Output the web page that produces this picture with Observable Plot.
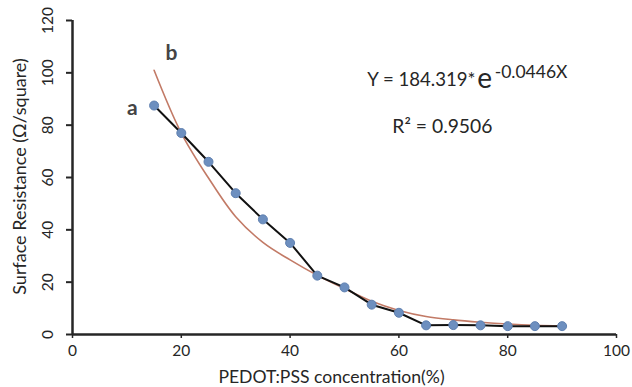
<!DOCTYPE html>
<html>
<head>
<meta charset="utf-8">
<script src="https://cdn.jsdelivr.net/npm/d3@7"></script>
<script src="https://cdn.jsdelivr.net/npm/@observablehq/plot@0.6"></script>
<style>
  html, body { margin: 0; padding: 0; background: #fff; }
</style>
</head>
<body>
<div id="chart"></div>
<script>
// Measured data (series a)
const concentration = [15, 20, 25, 30, 35, 40, 45, 50, 55, 60, 65, 70, 75, 80, 85, 90];
const resistance = [87.5, 77, 66, 54, 44, 35, 22.5, 18, 11.4, 8.3, 3.5, 3.6, 3.5, 3.2, 3.2, 3.2];
// Fitted curve as drawn (series b)
const fitConcentration = [15, 20, 25, 30, 35, 40, 45, 50, 55, 60, 65, 70, 75, 80, 85, 90];
const fitResistance = [101, 77, 59.8, 45, 35.2, 28.5, 22.6, 17.5, 12.7, 9.2, 6.9, 5.6, 4.7, 4, 3.5, 3.2];
// Axis ticks
const xTicks = [0, 20, 40, 60, 80, 100];
const yTicks = [0, 20, 40, 60, 80, 100, 120];

const measured = concentration.map((c, i) => ({c, r: resistance[i]}));
const fitted = fitConcentration.map((c, i) => ({c, r: fitResistance[i]}));

const font = "Lato, 'Open Sans', sans-serif";
const ink = "#262626";

const chart = Plot.plot({
  width: 632,
  height: 387,
  marginLeft: 72,
  marginRight: 16,
  marginTop: 20,
  marginBottom: 53,
  style: {fontFamily: font, background: "#fff", color: ink},
  x: {domain: [0, 100]},
  y: {domain: [0, 120]},
  marks: [
    Plot.axisX({ticks: xTicks, tickSize: 4, tickFormat: () => "", stroke: ink, strokeWidth: 1.5, label: null}),
    Plot.axisY({ticks: yTicks, tickSize: 6, tickFormat: () => "", stroke: ink, strokeWidth: 2, label: null}),
    Plot.text(xTicks, {x: d => d, y: 0, text: d => String(d), dy: 17, fontSize: 15.5, fill: ink, lineAnchor: "middle"}),
    Plot.text(yTicks, {x: 0, y: d => d, text: d => String(d), rotate: -90, dx: -24, fontSize: 15.5, fill: ink, textAnchor: "middle"}),
    Plot.text(["PEDOT:PSS concentration(%)"], {frameAnchor: "bottom", textAnchor: "middle", dx: -13, dy: 43, fontSize: 17.6, fill: ink, lineAnchor: "middle"}),
    Plot.text(["Surface Resistance (\u03A9/square)"], {frameAnchor: "left", dx: -52, dy: -1, rotate: -90, fontSize: 18, fill: ink, textAnchor: "middle"}),
    Plot.ruleX([0], {stroke: ink, strokeWidth: 2.5}),
    Plot.ruleY([0], {stroke: ink, strokeWidth: 2.5}),
    Plot.line(fitted, {x: "c", y: "r", curve: "catmull-rom", stroke: "#c27a66", strokeWidth: 1.6}),
    Plot.line(measured, {x: "c", y: "r", stroke: "#111", strokeWidth: 2}),
    Plot.dot(measured, {x: "c", y: "r", r: 4.5, fill: "#6d8fbf", stroke: "#5f80b0", strokeWidth: 1}),
    Plot.text(["a"], {x: 11, y: 86.5, fontSize: 21, fontWeight: "bold", fill: "#444"}),
    Plot.text(["b"], {x: 18.2, y: 107.5, fontSize: 21, fontWeight: "bold", fill: "#444"}),
    Plot.text(["Y = 184.319*"], {x: 54.2, y: 97.1, fontSize: 18.6, textAnchor: "start", fill: ink}),
    Plot.text(["e"], {x: 74.4, y: 97.8, fontSize: 28, textAnchor: "start", fill: ink}),
    Plot.text(["-0.0446X"], {x: 77.6, y: 100.2, fontSize: 17.5, textAnchor: "start", fill: ink}),
    Plot.text(["R\u00B2 = 0.9506"], {x: 58.8, y: 79.2, fontSize: 19.3, textAnchor: "start", fill: ink})
  ]
});
document.getElementById("chart").appendChild(chart);
</script>
</body>
</html>
